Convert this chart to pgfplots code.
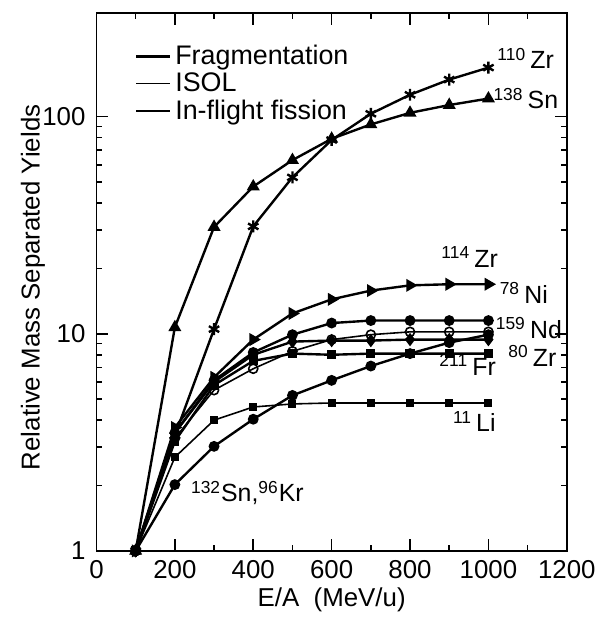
\documentclass[border=0pt]{standalone}
\usepackage{pgfplots}
\pgfplotsset{compat=1.18}
\usepackage{fontspec}
\setmainfont{Liberation Sans}

\begin{document}
\begin{tikzpicture}
\begin{axis}[
  scale only axis,
  width=236.5pt, height=270.5pt,
  xmin=0, xmax=1200,
  ymode=log, ymin=1, ymax=300,
  xtick={0,200,...,1200},
  minor x tick num=1,
  ytick={1,10,100},
  yticklabels={1,10,100},
  major tick length=6pt,
  minor tick length=3pt,
  tick style={line width=0.8pt, black},
  axis line style={line width=0.9pt},
  tick label style={font=\fontsize{13}{15}\selectfont},
  xticklabel style={yshift=-1.5pt},
  yticklabel style={xshift=-2pt},
  /pgf/number format/assume math mode=true,
  /pgf/number format/1000 sep={},
  log ticks with fixed point,
  xlabel={E/A\ \ (MeV/u)},
  ylabel={Relative Mass Separated Yields},
  every axis x label/.style={at={(axis description cs:0.5,-0.09)}, anchor=center,
    font=\fontsize{13}{15}\selectfont},
  every axis y label/.style={at={(axis description cs:-0.135,0.49)}, anchor=center,
    rotate=90, font=\fontsize{13}{15}\selectfont},
  legend style={at={(rel axis cs:0.068,0.955)}, anchor=north west, draw=none,
    fill=none, font=\fontsize{13.5}{15}\selectfont, row sep=-1.5pt,
    legend cell align=left},
  every axis plot/.append style={black, line width=1.2pt},
  mark size=2.1pt,
]
\addlegendimage{no markers, line width=1.3pt, black}
\addlegendentry{Fragmentation}
\addlegendimage{no markers, line width=0.6pt, black}
\addlegendentry{ISOL}
\addlegendimage{no markers, line width=1.1pt, black}
\addlegendentry{In-flight fission}

% 110Zr
\addplot[mark=asterisk, mark size=3pt, forget plot] coordinates {
(100,1)(200,3.4)(300,10.5)(400,31.2)(500,52.5)(600,78)(700,103)(800,126)(900,148)(1000,168)};
% 138Sn
\addplot[mark=triangle*, mark size=2.6pt, forget plot] coordinates {
(100,1)(200,10.7)(300,31)(400,47.6)(500,63)(600,79)(700,92)(800,104)(900,113)(1000,121)};
% 114Zr
\addplot[mark=triangle*, mark size=2.6pt, mark options={rotate=-90}, forget plot] coordinates {
(100,1)(200,3.7)(300,6.3)(400,9.4)(500,12.4)(600,14.4)(700,15.8)(800,16.7)(900,16.9)(1000,16.9)};
% 78Ni
\addplot[mark=*, forget plot] coordinates {
(100,1)(200,3.5)(300,6.1)(400,8.2)(500,9.9)(600,11.2)(700,11.5)(800,11.5)(900,11.5)(1000,11.5)};
% 159Nd
\addplot[mark=o, mark size=2.3pt, mark options={fill=white, line width=0.8pt}, line width=0.8pt, forget plot] coordinates {
(100,1)(200,3.3)(300,5.5)(400,6.9)(500,8.3)(600,9.4)(700,9.9)(800,10.2)(900,10.2)(1000,10.2)};
% 80Zr
\addplot[mark=diamond*, mark size=2.4pt, forget plot] coordinates {
(100,1)(200,3.5)(300,6.0)(400,8.0)(500,9.2)(600,9.3)(700,9.3)(800,9.4)(900,9.4)(1000,9.4)};
% 211Fr
\addplot[mark=square*, mark size=1.7pt, forget plot] coordinates {
(100,1)(200,3.2)(300,5.8)(400,7.5)(500,8.1)(600,8.0)(700,8.1)(800,8.1)(900,8.1)(1000,8.1)};
% 11Li
\addplot[mark=square*, mark size=1.6pt, line width=0.8pt, forget plot] coordinates {
(100,1)(200,2.7)(300,4.0)(400,4.6)(500,4.75)(600,4.8)(700,4.8)(800,4.8)(900,4.8)(1000,4.8)};
% 132Sn, 96Kr
\addplot[mark=*, forget plot] coordinates {
(100,1)(200,2.02)(300,3.03)(400,4.04)(500,5.2)(600,6.1)(700,7.1)(800,8.1)(900,9.1)(1000,9.9)};

\begin{scope}[every node/.style={font=\fontsize{12.5}{14}\selectfont, inner sep=0pt}]
\node[anchor=west] at (axis cs:1022,185) {\textsuperscript{110}\,Zr};
\node[anchor=west] at (axis cs:1012,121) {\textsuperscript{138}\,Sn};
\node at (axis cs:952,22.5) {\textsuperscript{114}\,Zr};
\node[anchor=west] at (axis cs:1028,15.4) {\textsuperscript{78}\,Ni};
\node[anchor=west] at (axis cs:1018,10.6) {\textsuperscript{159}\,Nd};
\node at (axis cs:1112,7.9) {\textsuperscript{80}\,Zr};
\node at (axis cs:947,7.2) {\textsuperscript{211}\,Fr};
\node at (axis cs:964,3.95) {\textsuperscript{11}\,Li};
\node at (axis cs:385,1.85) {\textsuperscript{132}Sn,\textsuperscript{96}Kr};
\end{scope}
\end{axis}
\path (current axis.south west) ++(-48.5pt,-32pt);
\path (current axis.north east) ++(13.5pt,6.5pt);
\end{tikzpicture}
\end{document}
